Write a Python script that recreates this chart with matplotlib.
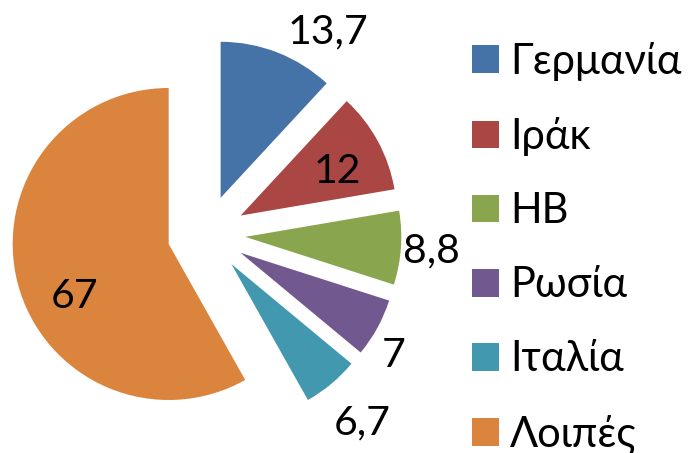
import numpy as np
import matplotlib
matplotlib.use("Agg")
import matplotlib.pyplot as plt
from matplotlib.patches import Patch

# data
countries = ["Γερμανία", "Ιράκ", "ΗΒ", "Ρωσία", "Ιταλία", "Λοιπές"]
shares = [13.7, 12, 8.8, 7, 6.7, 67]
value_labels = ["13,7", "12", "8,8", "7", "6,7", "67"]
colors = ["#4572A7", "#AA4643", "#89A54E", "#71588F", "#4198AF", "#DB843D"]

# where each value label sits: fraction of radius from the wedge centre and an angle nudge (deg)
label_rfrac = [1.207, 0.655, 1.202, 1.224, 1.381, 0.731]
label_nudge = [13.3, 9.7, 3.9, 7.9, 2.3, -19.6]

plt.rcParams["font.family"] = ["Lato", "Open Sans", "DejaVu Sans"]

W, H = 696, 453
fig = plt.figure(figsize=(W / 100, H / 100), dpi=100)
ax = fig.add_axes([0, 0, 1, 1])

R = 156
cx, cy = 206.4, H - 234.1
wedges, _ = ax.pie(shares, colors=colors, startangle=90, counterclock=False,
                   radius=R, center=(cx, cy), explode=[39] * len(shares),
                   wedgeprops=dict(linewidth=0))
ax.set_xlim(0, W)
ax.set_ylim(0, H)
ax.set_aspect("equal")
ax.axis("off")

for w, txt, rf, nd in zip(wedges, value_labels, label_rfrac, label_nudge):
    mid = np.deg2rad((w.theta1 + w.theta2) / 2 - nd)
    x0, y0 = w.center
    ax.text(x0 + rf * R * np.cos(mid), y0 + rf * R * np.sin(mid), txt,
            fontsize=29.5, ha="center", va="baseline", color="black")

handles = [Patch(facecolor=c, edgecolor="none") for c in colors]
ax.legend(handles, countries, loc="upper left", bbox_to_anchor=(472 / W, 1 - 42 / H),
          frameon=False, fontsize=30, handlelength=0.65, handleheight=0.65,
          handletextpad=0.27, labelspacing=0.866, borderpad=0, borderaxespad=0)

fig.savefig("out.png", dpi=100)
